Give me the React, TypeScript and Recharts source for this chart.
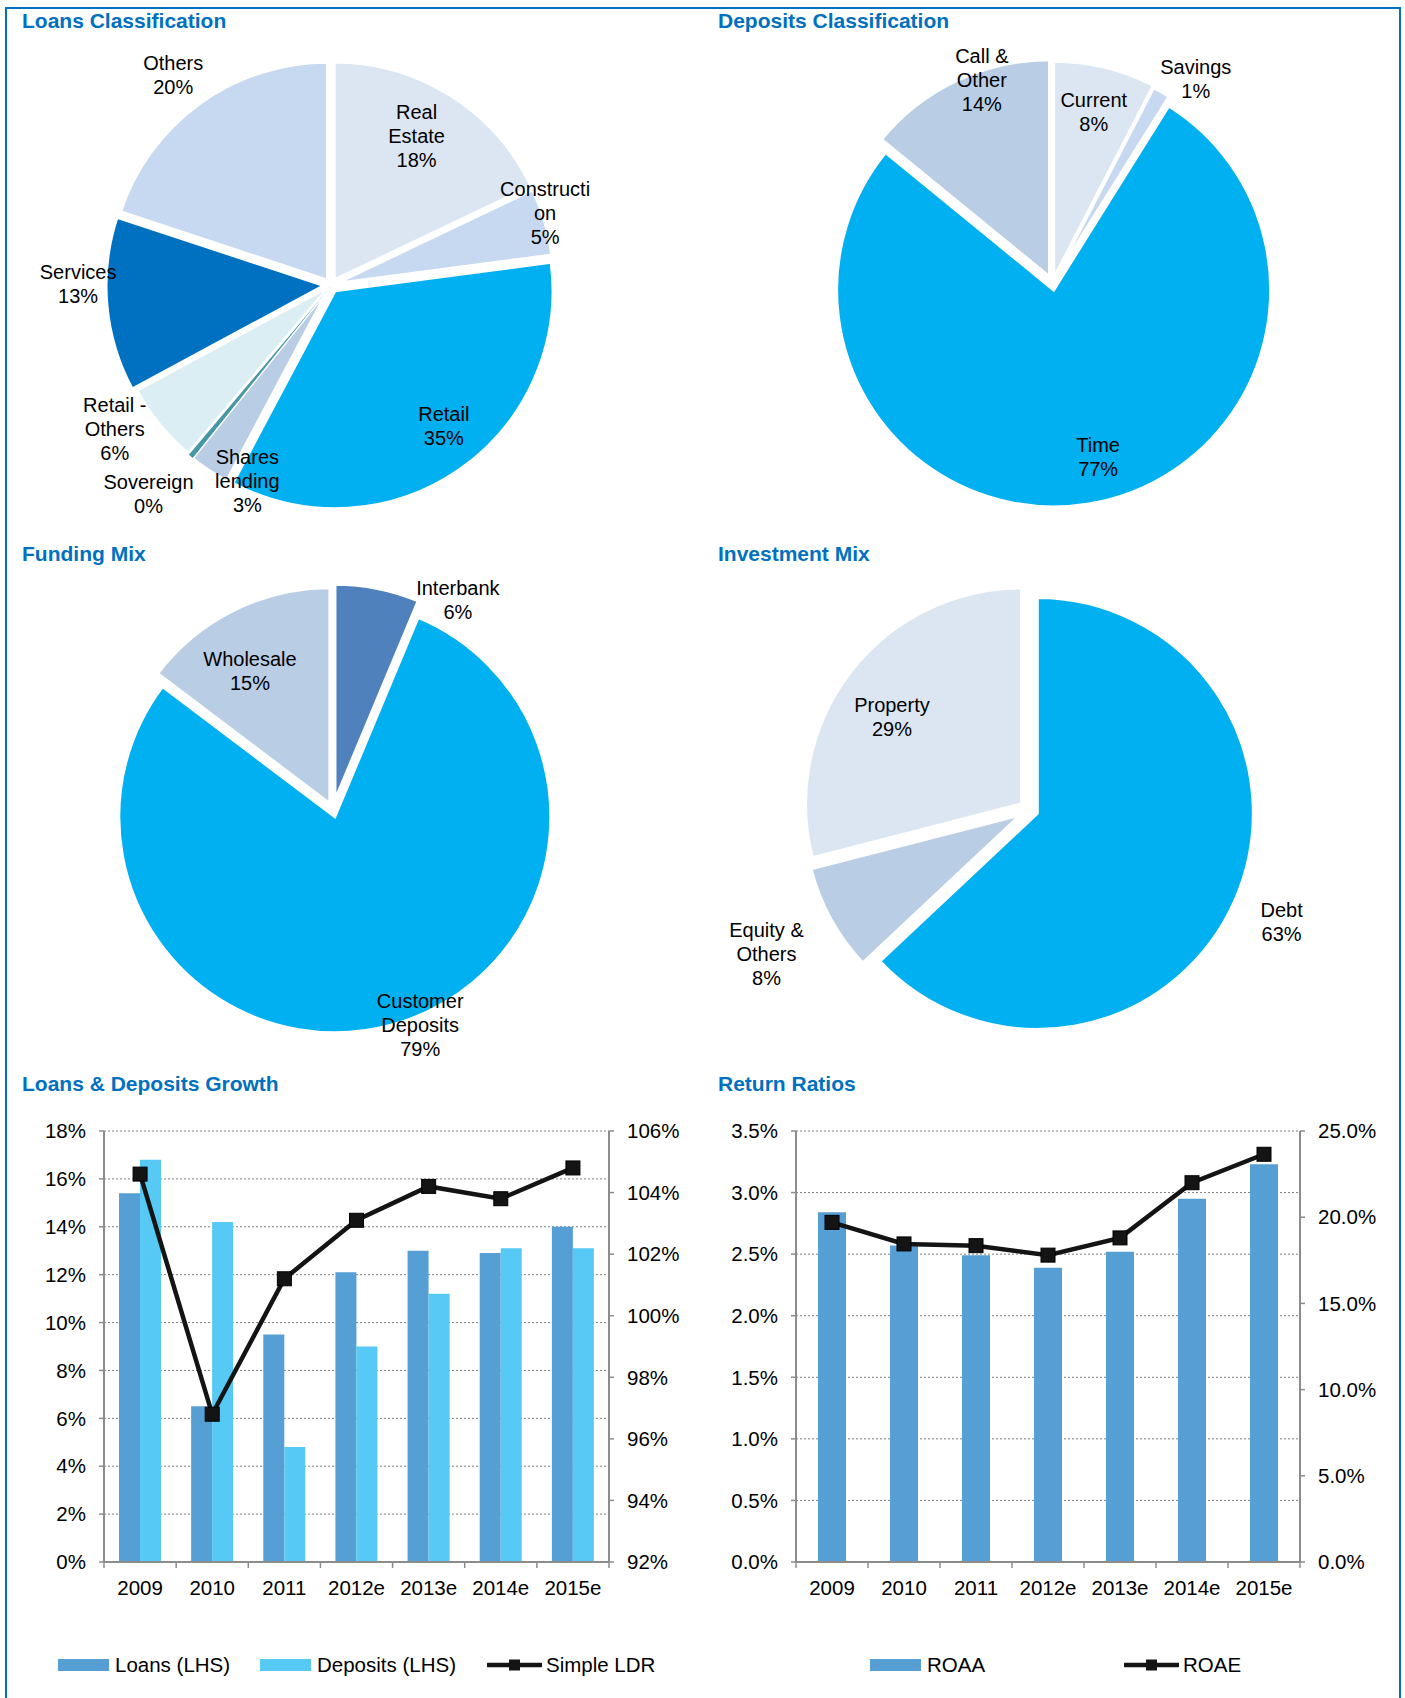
import React from 'react';
import { PieChart, Pie, Cell, ComposedChart, Bar, Line, XAxis, YAxis, CartesianGrid } from 'recharts';

const FONT = '"Liberation Sans", Arial, Helvetica, sans-serif';
const TITLE_BLUE = '#0070C0';
const AXIS = '#8C8C8C';
const TEXT_SIZE = 20.5;

// ---- pie data ----
const loanNames = ['Real\nEstate', 'Constructi\non', 'Retail', 'Shares\nlending', 'Sovereign', 'Retail -\nOthers', 'Services', 'Others'];
const loanValues = [18, 5, 35, 3, 0.4, 6, 13, 20];
const loanColors = ['#DCE6F2', '#C6D9F1', '#00B0F0', '#B9CDE5', '#4597A8', '#DAEEF3', '#0070C0', '#C6D9F1'];

const depositNames = ['Current', 'Savings', 'Time', 'Call &\nOther'];
const depositValues = [7.6, 1.3, 77, 14.1];
const depositColors = ['#DCE6F2', '#C6D9F1', '#00B0F0', '#B9CDE5'];

const fundingNames = ['Interbank', 'Customer\nDeposits', 'Wholesale'];
const fundingValues = [6.3, 79, 14.7];
const fundingColors = ['#4F81BD', '#00B0F0', '#B9CDE5'];

const investNames = ['Debt', 'Equity &\nOthers', 'Property'];
const investValues = [63, 8, 29];
const investColors = ['#00B0F0', '#B9CDE5', '#DCE6F2'];

// slice explosion (px, along each slice's mid angle)
const loanExplode = [6, 5, 7, 4, 3, 3, 7, 6];
const depositExplode = [5, 3, 7, 7];
const fundingExplode = [10, 7, 7];
const investExplode = [8.5, 10.5, 10];

// label placement: k = fraction of label radius, da = angle nudge (deg, clockwise)
const loanLabelPlace = [
  { k: 0.77, da: -1.6 }, { k: 1.02, da: -1.7 }, { k: 0.82, da: -4.1 }, { k: 0.955, da: -10.8 },
  { k: 1.24, da: 1.3 }, { k: 1.16, da: 5 }, { k: 1.125, da: 5 }, { k: 1.17, da: -0.8 },
];
const depositLabelPlace = [{ k: 0.81, da: 0 }, { k: 1.15, da: 5.3 }, { k: 0.82, da: -5.6 }, { k: 0.99, da: 6.4 }];
const fundingLabelPlace = [{ k: 1.12, da: 19 }, { k: 1.05, da: -6.9 }, { k: 0.75, da: -4.3 }];
const investLabelPlace = [{ k: 1.26, da: 0.6 }, { k: 1.4, da: 0.6 }, { k: 0.785, da: -4.1 }];

// ---- bar / line data ----
const years = ['2009', '2010', '2011', '2012e', '2013e', '2014e', '2015e'];
const loansGrowth = [15.4, 6.5, 9.5, 12.1, 13.0, 12.9, 14.0];
const depositsGrowth = [16.8, 14.2, 4.8, 9.0, 11.2, 13.1, 13.1];
const simpleLdr = [104.6, 96.8, 101.2, 103.1, 104.2, 103.8, 104.8];
const roaa = [2.84, 2.57, 2.49, 2.39, 2.52, 2.95, 3.23];
const roae = [19.7, 18.45, 18.35, 17.8, 18.8, 22.0, 23.65];

const growthTicks = [0, 2, 4, 6, 8, 10, 12, 14, 16, 18];
const ldrTicks = [92, 94, 96, 98, 100, 102, 104, 106];
const roaaTicks = [0, 0.5, 1, 1.5, 2, 2.5, 3, 3.5];
const roaeTicks = [0, 5, 10, 15, 20, 25];

const growthData = years.map((y, i) => ({ year: y, loans: loansGrowth[i], deposits: depositsGrowth[i], ldr: simpleLdr[i] }));
const returnData = years.map((y, i) => ({ year: y, roaa: roaa[i], roae: roae[i] }));

const RAD = Math.PI / 180;

function makePieLabel(names: string[], values: number[], place: { k: number; da: number }[]) {
  return (p: any) => {
    const { cx, cy, midAngle, outerRadius, index } = p;
    const pl = place[index];
    const a = (midAngle - pl.da) * RAD;
    const r = outerRadius * pl.k;
    const x = cx + r * Math.cos(a);
    const y = cy - r * Math.sin(a);
    const lines = [...names[index].split('\n'), `${Math.round(values[index])}%`];
    const lh = 24;
    return (
      <text key={`lbl-${index}`} textAnchor="middle" fill="#000" fontSize={20} fontFamily={FONT}>
        {lines.map((l, i) => (
          <tspan key={i} x={x} y={y + (i - (lines.length - 1) / 2) * lh + 7}>{l}</tspan>
        ))}
      </text>
    );
  };
}

function explodeOffsets(values: number[], explode: number[]) {
  const total = values.reduce((a, b) => a + b, 0);
  let cum = 0;
  return values.map((v, i) => {
    const mid = ((cum + v / 2) / total) * 2 * Math.PI;
    cum += v;
    return { dx: explode[i] * Math.sin(mid), dy: -explode[i] * Math.cos(mid) };
  });
}

const Title = ({ x, y, text }: { x: number; y: number; text: string }) => (
  <div style={{ position: 'absolute', left: x, top: y - 10.5, fontSize: 21, lineHeight: '21px', fontWeight: 'bold', color: TITLE_BLUE, whiteSpace: 'nowrap' }}>
    {text}
  </div>
);

interface PiePanelProps {
  left: number; top: number; height: number;
  cx: number; cy: number; r: number;
  lcx: number; lcy: number; lr: number;
  names: string[]; values: number[]; colors: string[]; explode: number[];
  place: { k: number; da: number }[];
}

const PiePanel = ({ left, top, height, cx, cy, r, lcx, lcy, lr, names, values, colors, explode, place }: PiePanelProps) => {
  const data = names.map((n, i) => ({ name: n, value: values[i] }));
  const offs = explodeOffsets(values, explode);
  return (
    <div style={{ position: 'absolute', left, top }}>
      <PieChart width={705} height={height} margin={{ top: 0, right: 0, bottom: 0, left: 0 }}>
        {data.map((_, s) => (
          <Pie
            key={`slice-${s}`}
            data={data}
            dataKey="value"
            cx={cx + offs[s].dx}
            cy={cy + offs[s].dy}
            outerRadius={r}
            startAngle={90}
            endAngle={-270}
            labelLine={false}
            isAnimationActive={false}
          >
            {data.map((d, i) => (
              i === s
                ? <Cell key={i} fill={colors[i]} stroke={d.value < 1 ? colors[i] : '#fff'} strokeWidth={d.value < 1 ? 1 : 3} />
                : <Cell key={i} fill="none" stroke="none" />
            ))}
          </Pie>
        ))}
        <Pie
          key="labels"
          data={data}
          dataKey="value"
          cx={lcx}
          cy={lcy}
          outerRadius={lr}
          startAngle={90}
          endAngle={-270}
          labelLine={false}
          label={makePieLabel(names, values, place)}
          isAnimationActive={false}
        >
          {data.map((_, i) => <Cell key={i} fill="none" stroke="none" />)}
        </Pie>
      </PieChart>
    </div>
  );
};

const EdgeTick = (props: any) => {
  const { x, y, payload, index } = props;
  const half = typeof payload?.offset === 'number' && payload.offset > 0 ? payload.offset : 36;
  return (
    <g>
      <line x1={x - half} x2={x - half} y1={y} y2={y + 6} stroke={AXIS} strokeWidth={1.5} />
      {index === years.length - 1 && <line x1={x + half} x2={x + half} y1={y} y2={y + 6} stroke={AXIS} strokeWidth={1.5} />}
      <text x={x} y={y + 33} textAnchor="middle" fontSize={TEXT_SIZE} fontFamily={FONT} fill="#000">{payload.value}</text>
    </g>
  );
};

const SquareDot = (p: any) => {
  if (p.cx == null || p.cy == null) return <g key={`d-${p.index}`} />;
  return <rect key={`d-${p.index}`} x={p.cx - 7} y={p.cy - 7} width={14} height={14} fill="#141414" stroke="#000" strokeWidth={1} />;
};

const tickStyle = { fontSize: TEXT_SIZE, fontFamily: FONT, fill: '#000' };

const LegendSwatch = ({ x, color, label }: { x: number; color: string; label: string }) => (
  <div style={{ position: 'absolute', left: x, top: 1653, height: 24, display: 'flex', alignItems: 'center', fontSize: TEXT_SIZE, whiteSpace: 'nowrap' }}>
    <span style={{ display: 'inline-block', width: 51, height: 12, background: color, marginRight: 6 }} />
    <span>{label}</span>
  </div>
);

const LegendLine = ({ x, label }: { x: number; label: string }) => (
  <div style={{ position: 'absolute', left: x, top: 1653, height: 24, display: 'flex', alignItems: 'center', fontSize: TEXT_SIZE, whiteSpace: 'nowrap' }}>
    <svg width={55} height={14} style={{ marginRight: 4 }}>
      <line x1={1} x2={54} y1={7} y2={7} stroke="#141414" strokeWidth={4.5} strokeLinecap="round" />
      <rect x={22} y={1.5} width={11} height={11} fill="#141414" />
    </svg>
    <span>{label}</span>
  </div>
);

export default function App() {
  return (
    <div style={{ position: 'absolute', left: 0, top: 0, width: 1405, height: 1698, overflow: 'hidden', background: '#fff', fontFamily: FONT, color: '#000' }}>
      <div style={{ position: 'absolute', left: 5, top: 7, width: 1392, height: 1720, border: `2px solid ${TITLE_BLUE}` }} />

      <Title x={22} y={20} text="Loans Classification" />
      <Title x={718} y={20} text="Deposits Classification" />
      <Title x={22} y={553} text="Funding Mix" />
      <Title x={718} y={553} text="Investment Mix" />
      <Title x={22} y={1083} text="Loans & Deposits Growth" />
      <Title x={718} y={1083} text="Return Ratios" />

      <PiePanel left={0} top={0} height={530} cx={331} cy={285} r={218} lcx={329} lcy={284} lr={223}
        names={loanNames} values={loanValues} colors={loanColors} explode={loanExplode} place={loanLabelPlace} />
      <PiePanel left={700} top={0} height={530} cx={352.5} cy={283} r={217} lcx={352} lcy={284} lr={218}
        names={depositNames} values={depositValues} colors={depositColors} explode={depositExplode} place={depositLabelPlace} />
      <PiePanel left={0} top={530} height={545} cx={333} cy={280} r={216} lcx={334} lcy={282} lr={219}
        names={fundingNames} values={fundingValues} colors={fundingColors} explode={fundingExplode} place={fundingLabelPlace} />
      <PiePanel left={700} top={530} height={545} cx={329.5} cy={280} r={216} lcx={333} lcy={281} lr={216}
        names={investNames} values={investValues} colors={investColors} explode={investExplode} place={investLabelPlace} />

      {/* Loans & Deposits Growth */}
      <div style={{ position: 'absolute', left: 0, top: 1100 }}>
        <ComposedChart width={700} height={500} data={growthData} barGap={0} margin={{ top: 31, right: 0, bottom: 0, left: 0 }}>
          <CartesianGrid yAxisId="l" vertical={false} stroke="#7F7F7F" strokeDasharray="2 2" />
          <XAxis dataKey="year" interval={0} height={38} tickSize={0} tickMargin={0} tickLine={false}
            axisLine={{ stroke: AXIS, strokeWidth: 2 }} tick={<EdgeTick />} />
          <YAxis yAxisId="l" width={104} domain={[0, 18]} ticks={growthTicks} interval={0}
            tickFormatter={(v: number) => `${v}%`} tick={tickStyle} tickSize={5} tickMargin={13}
            axisLine={{ stroke: AXIS, strokeWidth: 2 }} tickLine={{ stroke: AXIS, strokeWidth: 1.5 }} />
          <YAxis yAxisId="r" orientation="right" width={91} domain={[92, 106]} ticks={ldrTicks} interval={0}
            tickFormatter={(v: number) => `${v}%`} tick={tickStyle} tickSize={5} tickMargin={13}
            axisLine={{ stroke: AXIS, strokeWidth: 2 }} tickLine={{ stroke: AXIS, strokeWidth: 1.5 }} />
          <Bar yAxisId="l" dataKey="loans" fill="#559FD5" barSize={21} isAnimationActive={false} />
          <Bar yAxisId="l" dataKey="deposits" fill="#56C9F4" barSize={21} isAnimationActive={false} />
          <Line yAxisId="r" dataKey="ldr" type="linear" stroke="#141414" strokeWidth={4.5} dot={SquareDot} activeDot={false} isAnimationActive={false} />
        </ComposedChart>
      </div>

      {/* Return Ratios */}
      <div style={{ position: 'absolute', left: 700, top: 1100 }}>
        <ComposedChart width={705} height={500} data={returnData} margin={{ top: 31, right: 0, bottom: 0, left: 0 }}>
          <CartesianGrid yAxisId="l" vertical={false} stroke="#7F7F7F" strokeDasharray="2 2" />
          <XAxis dataKey="year" interval={0} height={38} tickSize={0} tickMargin={0} tickLine={false}
            axisLine={{ stroke: AXIS, strokeWidth: 2 }} tick={<EdgeTick />} />
          <YAxis yAxisId="l" width={96} domain={[0, 3.5]} ticks={roaaTicks} interval={0}
            tickFormatter={(v: number) => `${v.toFixed(1)}%`} tick={tickStyle} tickSize={5} tickMargin={13}
            axisLine={{ stroke: AXIS, strokeWidth: 2 }} tickLine={{ stroke: AXIS, strokeWidth: 1.5 }} />
          <YAxis yAxisId="r" orientation="right" width={105} domain={[0, 25]} ticks={roaeTicks} interval={0}
            tickFormatter={(v: number) => `${v.toFixed(1)}%`} tick={tickStyle} tickSize={5} tickMargin={13}
            axisLine={{ stroke: AXIS, strokeWidth: 2 }} tickLine={{ stroke: AXIS, strokeWidth: 1.5 }} />
          <Bar yAxisId="l" dataKey="roaa" fill="#559FD5" barSize={28} isAnimationActive={false} />
          <Line yAxisId="r" dataKey="roae" type="linear" stroke="#141414" strokeWidth={4.5} dot={SquareDot} activeDot={false} isAnimationActive={false} />
        </ComposedChart>
      </div>

      <LegendSwatch x={58} color="#559FD5" label="Loans (LHS)" />
      <LegendSwatch x={260} color="#56C9F4" label="Deposits (LHS)" />
      <LegendLine x={487} label="Simple LDR" />
      <LegendSwatch x={870} color="#559FD5" label="ROAA" />
      <LegendLine x={1124} label="ROAE" />
    </div>
  );
}
